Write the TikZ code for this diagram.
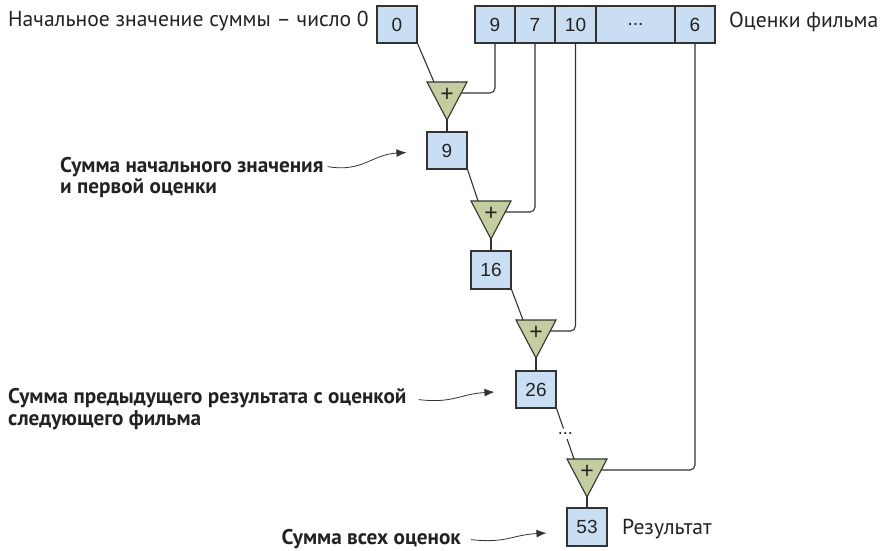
\documentclass[tikz,border=0pt]{standalone}
\usepackage{fontspec}
\setmainfont{PT Sans}
\newfontfamily\numfont{Liberation Sans}
\usetikzlibrary{arrows.meta,calc}
\definecolor{cellblue}{HTML}{C9DEF2}
\definecolor{addgreen}{HTML}{C2CE9F}
\definecolor{ink}{HTML}{333333}
\definecolor{txt}{HTML}{222222}

% an adder: downward triangle whose top edge is centred at (#2,#3)
\newcommand\adder[3]{%
  \draw[addshape] (#2-20,#3) -- (#2+20,#3) -- (#2,#3+38) -- cycle;
  \coordinate (#1-l) at (#2-13,#3);
  \coordinate (#1-r) at (#2+14.2,#3+11);
  \coordinate (#1-out) at (#2,#3+38);
  \node[plus] (#1-plus) at (#2,#3+13) {+};
}

\begin{document}
\begin{tikzpicture}[x=1pt,y=-1pt,
  cell/.style={draw=ink, fill=cellblue, line width=1.1pt, minimum width=40pt,
    minimum height=37pt, inner sep=0pt, text=txt,
    font=\numfont\fontsize{19}{22}\selectfont},
  addshape/.style={draw=ink, fill=addgreen, line width=1.1pt, line join=miter},
  plus/.style={inner sep=0pt, text=txt, font=\numfont\fontsize{23}{25}\selectfont},
  wire/.style={draw=ink, line width=1.1pt},
  note/.style={inner sep=0pt, anchor=base west, text=txt,
    font=\fontsize{21.6}{24}\selectfont},
  bnote/.style={inner sep=0pt, anchor=base west, text=txt,
    font=\bfseries\fontsize{21.2}{24}\selectfont},
  pointer/.style={draw=ink, line width=0.8pt, -{Latex[length=10pt,width=8pt]}}
]
\useasboundingbox (0,0) rectangle (881,550);

% start value and the ratings array
\node[cell] (b0) at (397,24.5) {0};
\node[cell] (c9) at (495,24.5) {9};
\node[cell] (c7) at (535,24.5) {7};
\node[cell, minimum width=41pt] (c10) at (575.5,24.5) {10};
\node[cell, minimum width=79pt] (cdots) at (635.5,24.5) {...};
\node[cell] (c6) at (695,24.5) {6};

% running totals
\node[cell] (b9)  at (447,150.5) {9};
\node[cell, minimum height=38pt] (b16) at (491,270) {16};
\node[cell] (b26) at (536,389.5) {26};
\node[cell, minimum height=38pt] (b53) at (587,527) {53};

% adders
\adder{t1}{447}{82}
\adder{t2}{491}{201}
\adder{t3}{536}{320}
\adder{t4}{587}{459}

% data flow
\draw[wire] (b0.south east) -- (t1-l);
\draw[wire, rounded corners=5pt] (c9.south) |- (t1-r);
\draw[wire] (t1-out) -- (b9.north);
\draw[wire] (b9.south east) -- (t2-l);
\draw[wire, rounded corners=5pt] (c7.south) |- (t2-r);
\draw[wire] (t2-out) -- (b16.north);
\draw[wire] (b16.south east) -- (t3-l);
\draw[wire, rounded corners=5pt] (c10.south) |- (t3-r);
\draw[wire] (t3-out) -- (b26.north);
\path (b26.south east) -- node[pos=0.5, inner sep=4pt, text=txt,
  font=\numfont\fontsize{18}{20}\selectfont] (skip) {...} (t4-l);
\draw[wire] (b26.south east) -- (skip);
\draw[wire] (skip) -- (t4-l);
\draw[wire, rounded corners=5pt] (c6.south) |- (t4-r);
\draw[wire] (t4-out) -- (b53.north);

% captions
\node[note] (startlbl) at (8,26) {Начальное значение суммы – число 0};
\node[note] (arrlbl) at (729,27) {Оценки фильма};
\node[note] (reslbl) at (622,534) {Результат};

\node[bnote] (n1a) at (60,172) {Сумма начального значения};
\node[bnote] (n1b) at (60,193) {и первой оценки};
\node[bnote] (n2a) at (8,403) {Сумма предыдущего результата с оценкой};
\node[bnote] (n2b) at (8,425) {следующего фильма};
\node[bnote, anchor=base east] (n3) at (461,544) {Сумма всех оценок};

% pointers from captions
\coordinate (p1s) at ($(n1a.east)+(4,0)$);
\coordinate (p1e) at ($(b9.west)+(-20,2)$);
\draw[pointer] (p1s) .. controls +(35,6) and +(-35,2) .. (p1e);
\coordinate (p2s) at ($(n2a.east)+(12,2)$);
\coordinate (p2e) at ($(b26.west)+(-21,2.5)$);
\draw[pointer] (p2s) .. controls +(35,4) and +(-35,2) .. (p2e);
\coordinate (p3s) at ($(n3.east)+(10,1)$);
\coordinate (p3e) at ($(b53.west)+(-20,6)$);
\draw[pointer] (p3s) .. controls +(35,4) and +(-35,2) .. (p3e);
\end{tikzpicture}
\end{document}
